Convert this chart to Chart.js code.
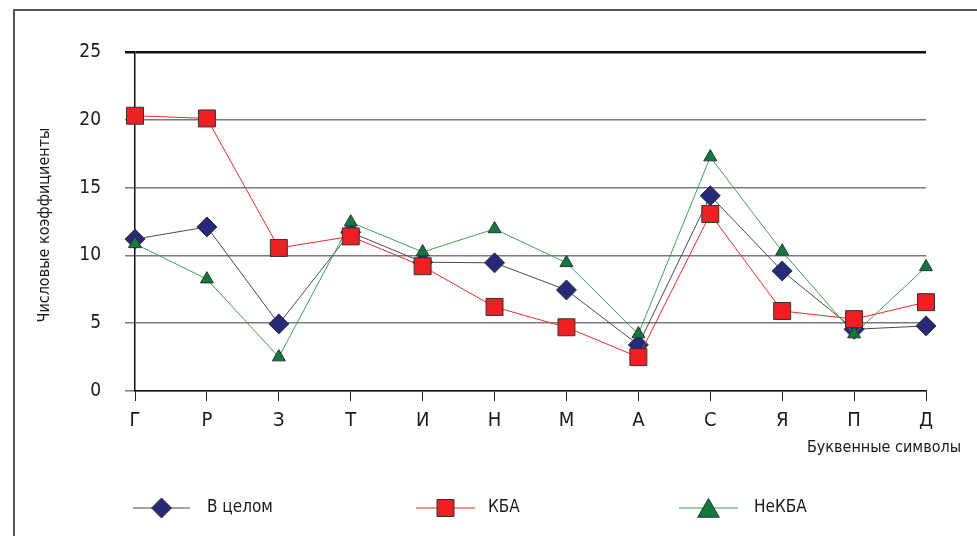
<!DOCTYPE html>
<html>
<head>
<meta charset="utf-8">
<script src="https://cdn.jsdelivr.net/npm/chart.js@4.4.1/dist/chart.umd.min.js"></script>
<style>
  html, body { margin: 0; padding: 0; background: #fff; }
  #wrap { position: relative; width: 977px; height: 536px; }
  canvas { display: block; }
</style>
</head>
<body>
<div id="wrap"><canvas id="c" width="977" height="536"></canvas></div>
<script>
// Letter symbols along the x axis
const letters = ['Г', 'Р', 'З', 'Т', 'И', 'Н', 'М', 'А', 'С', 'Я', 'П', 'Д'];

// Numeric coefficients per letter
const overall = [11.2, 12.1, 4.95, 11.7, 9.5, 9.45, 7.45, 3.4, 14.4, 8.85, 4.55, 4.8];
const kba     = [20.3, 20.1, 10.55, 11.4, 9.2, 6.2, 4.7, 2.5, 13.05, 5.9, 5.3, 6.55];
const nekba   = [10.85, 8.25, 2.5, 12.45, 10.25, 11.95, 9.45, 4.2, 17.25, 10.3, 4.2, 9.15];

const seriesNames = ['В целом', 'КБА', 'НеКБА'];
const yTicks = [0, 5, 10, 15, 20, 25];

const FONT = '"DejaVu Sans Condensed", "DejaVu Sans", sans-serif';

const styles = [
  { line: '#4a4a4a', fill: '#262a78', pointStyle: 'rectRot', radius: 10, legendRadius: 10, order: 3 },
  { line: '#ee2a2a', fill: '#ee2024', pointStyle: 'rect', radius: 12, legendRadius: 12, order: 1 },
  { line: '#3aa553', fill: '#0d7b3c', pointStyle: 'triangle', radius: 7.5, legendRadius: 12.5, order: 2 }
];

const values = [overall, kba, nekba];

const datasets = values.map((v, i) => ({
  label: seriesNames[i],
  data: v,
  borderColor: styles[i].line,
  borderWidth: 1,
  backgroundColor: styles[i].fill,
  pointBackgroundColor: styles[i].fill,
  pointBorderColor: '#333',
  pointBorderWidth: 1,
  pointStyle: styles[i].pointStyle,
  pointRadius: styles[i].radius,
  pointHoverRadius: styles[i].radius,
  tension: 0,
  clip: false,
  order: styles[i].order
}));

// Frame, axis titles and legend row drawn around the plot
const decor = {
  id: 'decor',
  afterDraw(chart) {
    const ctx = chart.ctx;
    ctx.save();
    // outer frame (left and top edges)
    ctx.strokeStyle = '#555';
    ctx.lineWidth = 2;
    ctx.beginPath();
    ctx.moveTo(14, 536);
    ctx.lineTo(14, 10);
    ctx.lineTo(977, 10);
    ctx.stroke();

    // axis titles
    ctx.fillStyle = '#1a1a1a';
    ctx.font = '16px ' + FONT;
    ctx.textAlign = 'right';
    ctx.textBaseline = 'middle';
    ctx.fillText('Буквенные символы', 961, 448);

    ctx.save();
    ctx.translate(45, 225);
    ctx.rotate(-Math.PI / 2);
    ctx.textAlign = 'center';
    ctx.fillText('Числовые коэффициенты', 0, 0);
    ctx.restore();

    // legend
    const items = [
      { x0: 133, x1: 190, tx: 207 },
      { x0: 416, x1: 475, tx: 488 },
      { x0: 679, x1: 738, tx: 754 }
    ];
    const ly = 508;
    items.forEach((it, i) => {
      const s = styles[i];
      ctx.strokeStyle = s.line;
      ctx.lineWidth = 1;
      ctx.beginPath();
      ctx.moveTo(it.x0, ly);
      ctx.lineTo(it.x1, ly);
      ctx.stroke();
      ctx.fillStyle = s.fill;
      ctx.strokeStyle = '#333';
      ctx.lineWidth = 1;
      const cy = s.pointStyle === 'triangle' ? ly + 3 : ly;
      Chart.helpers.drawPoint(ctx, {
        pointStyle: s.pointStyle, radius: s.legendRadius, rotation: 0, borderWidth: 1
      }, (it.x0 + it.x1) / 2, cy);
      ctx.fillStyle = '#1a1a1a';
      ctx.font = '17px ' + FONT;
      ctx.textAlign = 'left';
      ctx.textBaseline = 'middle';
      ctx.fillText(seriesNames[i], it.tx, ly);
    });
    ctx.restore();
  }
};

new Chart(document.getElementById('c'), {
  type: 'line',
  data: { labels: letters, datasets },
  plugins: [decor],
  options: {
    responsive: false,
    animation: false,
    events: [],
    layout: { padding: { top: 52, right: 51, left: 0, bottom: 0 } },
    plugins: {
      legend: { display: false },
      tooltip: { enabled: false }
    },
    scales: {
      x: {
        offset: false,
        grid: {
          drawOnChartArea: false,
          drawTicks: true,
          tickLength: 10,
          color: '#222',
          lineWidth: 1
        },
        border: { display: true, color: '#111', width: 1.5 },
        ticks: {
          font: { family: FONT, size: 20 },
          color: '#1a1a1a',
          padding: 8,
          maxRotation: 0,
          autoSkip: false
        },
        afterFit(scale) { scale.height = 145; }
      },
      y: {
        min: 0,
        max: 25,
        afterBuildTicks(scale) { scale.ticks = yTicks.map(v => ({ value: v })); },
        grid: {
          drawTicks: true,
          tickLength: 10,
          color: ctx => ctx.tick && ctx.tick.value === 25 ? '#111' : '#7a7a7a',
          lineWidth: ctx => ctx.tick && ctx.tick.value === 25 ? 2.5 : 1.5
        },
        border: { display: true, color: '#111', width: 1.5 },
        ticks: {
          font: { family: FONT, size: 19 },
          color: '#1a1a1a',
          padding: 24
        },
        afterFit(scale) { scale.width = 135; }
      }
    }
  }
});
</script>
</body>
</html>
